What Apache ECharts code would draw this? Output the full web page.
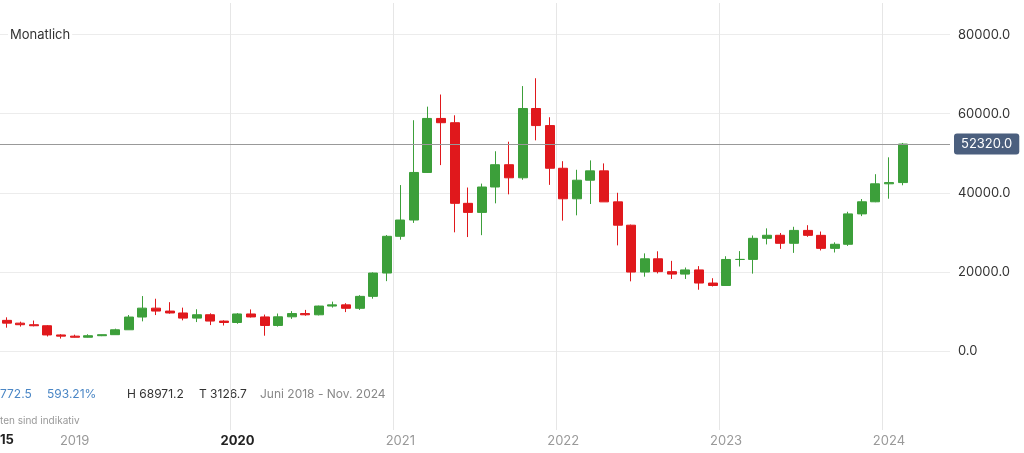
<!DOCTYPE html>
<html><head><meta charset="utf-8">
<script src="https://cdn.jsdelivr.net/npm/echarts@6/dist/echarts.min.js"></script>
<style>html,body{margin:0;padding:0;background:#fff}#c{width:1024px;height:453px}</style>
</head><body><div id="c"></div>
<script>
const months = [];
(function(){let y=2018,m=8;for(let i=0;i<70;i++){months.push(y+'-'+String(m).padStart(2,'0'));m++;if(m>12){m=1;y++;}}})();
// [open, close, low, high]
const opens  = [7730,7030,6630,6370,4040,3740,3460,3850,4110,5350,8570,10820,10080,9600,8300,9150,7550,7190,9350,8600,6440,8630,9450,9140,11350,11650,10780,13800,19700,28990,33110,45140,58800,57720,37330,35040,41460,47100,43790,61320,57000,46200,38480,43180,45540,37700,31800,19950,23300,20050,19430,20490,17170,16550,23130,23150,28480,29250,27220,30480,29230,25940,26970,34660,37720,42270,42580];
const closes = [7030,6630,6370,4040,3740,3460,3850,4110,5350,8570,10820,10080,9600,8300,9150,7550,7190,9350,8600,6440,8630,9450,9140,11350,11650,10780,13800,19700,28990,33110,45140,58800,57720,37330,35040,41460,47100,43790,61320,57000,46200,38480,43180,45540,37700,31800,19950,23300,20050,19430,20490,17170,16550,23130,23150,28480,29250,27220,30480,29230,25940,26970,34660,37720,42270,42580,52320];
const lows   = [5880,6150,6210,3650,3127,3400,3390,3740,4080,5350,7480,9070,9420,7730,7300,6530,6430,6870,8450,3850,6150,8100,8900,8980,10960,9820,10380,13210,17650,28130,32380,45000,47000,30000,28800,29280,37330,39600,43290,53260,42000,32950,34300,37160,37700,26700,17600,18780,19600,18200,18200,15480,16300,16500,21350,19550,26940,25810,24800,28860,25410,24900,26560,34100,37620,38500,41900];
const highs  = [8500,7400,7680,6540,4240,4110,4210,4130,5630,9080,13880,13200,12330,10950,10540,9510,7750,9570,10500,9190,9460,10070,10380,11450,12470,12070,14100,19860,29300,41950,58350,61780,64850,59600,41330,42320,50500,52920,66990,68970,59100,47990,45820,48190,47430,40000,31960,24670,25200,22780,21100,21450,18390,23950,25250,29200,31000,29830,31400,31800,30200,27470,35200,38420,44700,48970,52600];
const yTicks = [0,20000,40000,60000,80000];
const lastPrice = 52320;

const data = opens.map((o,i)=>[o,closes[i],lows[i],highs[i]]);
const chart = echarts.init(document.getElementById('c'));
const ff = 'Inter, "Noto Sans", sans-serif';
chart.setOption({
  animation:false,
  grid:{left:0,right:74,top:3,bottom:23},
  xAxis:{type:'category',data:months,boundaryGap:true,
    axisLine:{show:false},axisTick:{show:false},
    axisLabel:{interval:(i,v)=>v.endsWith('-01'),margin:5,fontFamily:ff,fontSize:13,color:'#999',
      formatter:v=>v.slice(0,4)==='2020'?'{b|2020}':v.slice(0,4),
      rich:{b:{fontFamily:ff,fontSize:13,fontWeight:'bold',color:'#222'}}},
    splitLine:{show:true,showMinLine:false,showMaxLine:false,interval:(i,v)=>v.endsWith('-01'),lineStyle:{color:'#e6e6e6'}}},
  yAxis:{type:'value',position:'right',min:-20000,max:88000,interval:20000,
    axisLine:{show:false},axisTick:{show:false},
    axisLabel:{margin:8,fontFamily:ff,fontSize:13,color:'#333',showMaxLabel:false,
      formatter:v=>yTicks.includes(v)?v.toFixed(1):''},
    splitLine:{showMinLine:false,showMaxLine:false,lineStyle:{color:'#ececec'}}},
  series:[{type:'candlestick',data:data,barWidth:'70%',
    itemStyle:{color:'#3c9f3a',color0:'#e0181c',borderColor:'#3c9f3a',borderColor0:'#e0181c',borderWidth:1},
    markLine:{symbol:'none',silent:true,data:[{yAxis:lastPrice}],
      lineStyle:{color:'#999',type:'solid',width:1},
      label:{position:'end',distance:4,formatter:()=>lastPrice.toFixed(1),color:'#fff',backgroundColor:'#4b5f7e',
        borderRadius:3,padding:[4,7],fontFamily:ff,fontSize:13}}}]
  ,graphic:[
    {type:'text',z:100,left:8,top:27,style:{text:'Monatlich',fontFamily:ff,fontSize:13,fill:'#333',backgroundColor:'#fff',padding:[2,2]}},
    {type:'text',left:0,top:388,style:{text:'772.5',fontFamily:ff,fontSize:12,fill:'#4a86c5'}},
    {type:'text',left:47,top:388,style:{text:'593.21%',fontFamily:ff,fontSize:12,fill:'#4a86c5'}},
    {type:'text',left:127,top:388,style:{text:'H 68971.2',fontFamily:ff,fontSize:12,fill:'#333'}},
    {type:'text',left:199,top:388,style:{text:'T 3126.7',fontFamily:ff,fontSize:12,fill:'#333'}},
    {type:'text',left:260,top:388,style:{text:'Juni 2018 - Nov. 2024',fontFamily:ff,fontSize:12,fill:'#888'}},
    {type:'text',left:0,top:416,style:{text:'ten sind indikativ',fontFamily:ff,fontSize:10,fill:'#999'}},
    {type:'text',left:0,top:434,style:{text:'15',fontFamily:ff,fontSize:13,fontWeight:'bold',fill:'#222'}}
  ]
});
</script></body></html>
